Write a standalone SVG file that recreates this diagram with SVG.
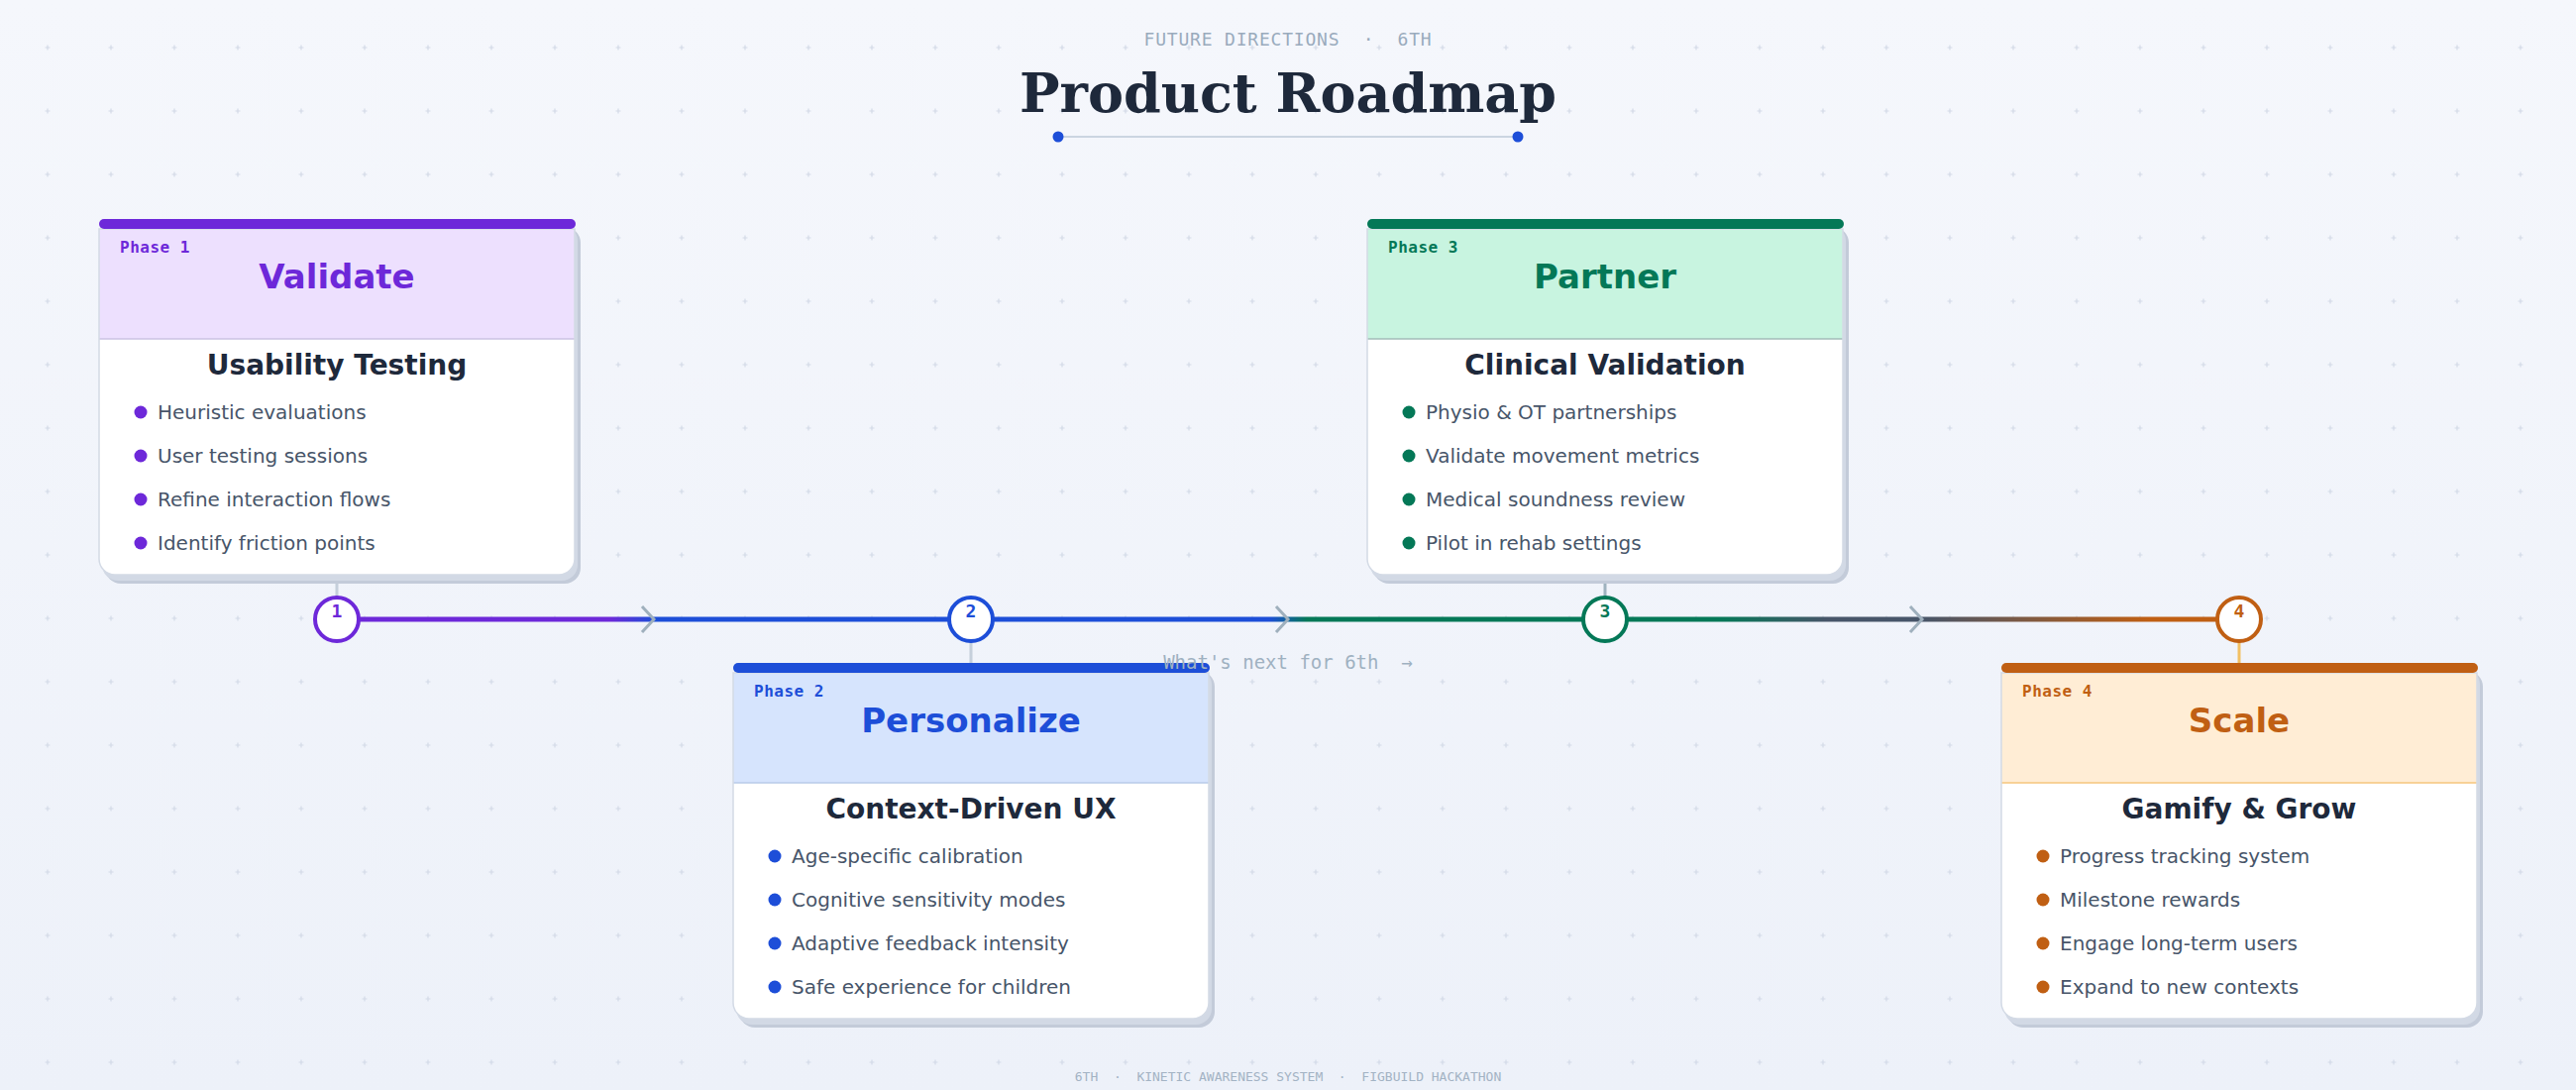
<svg xmlns="http://www.w3.org/2000/svg" width="2600" height="1100" viewBox="0 0 2600 1100">
<defs>
<linearGradient id="bg" x1="0" y1="0" x2="0" y2="1">
<stop offset="0" stop-color="#f5f7fc"/>
<stop offset="1" stop-color="#edf1f9"/>
</linearGradient>
<pattern id="grid" width="64" height="64" patternUnits="userSpaceOnUse">
<path d="M45.5 48H50.5M48 45.5V50.5" stroke="#d3dae7" stroke-width="1.2" fill="none"/>
</pattern>
<linearGradient id="seg1" gradientUnits="userSpaceOnUse" x1="340" y1="0" x2="980" y2="0">
<stop offset="0" stop-color="#6d28d9"/>
<stop offset="0.43" stop-color="#6d28d9"/>
<stop offset="0.5" stop-color="#1d4ed8"/>
<stop offset="1" stop-color="#1d4ed8"/>
</linearGradient>
<linearGradient id="seg2" gradientUnits="userSpaceOnUse" x1="980" y1="0" x2="1620" y2="0">
<stop offset="0" stop-color="#1d4ed8"/>
<stop offset="0.47" stop-color="#1d4ed8"/>
<stop offset="0.53" stop-color="#047857"/>
<stop offset="1" stop-color="#047857"/>
</linearGradient>
<linearGradient id="seg3" gradientUnits="userSpaceOnUse" x1="1620" y1="0" x2="2260" y2="0">
<stop offset="0" stop-color="#047857"/>
<stop offset="0.18" stop-color="#047857"/>
<stop offset="0.35" stop-color="#475569"/>
<stop offset="0.5" stop-color="#475569"/>
<stop offset="0.86" stop-color="#c05f13"/>
<stop offset="1" stop-color="#c05f13"/>
</linearGradient>
<g id="cardBase">
<rect x="6" y="8" width="480" height="360" rx="16" fill="#c3cbd9"/>
<rect x="3" y="6" width="480" height="359" rx="16" fill="#d2d9e5"/>
<path d="M0 10H480V343A16 16 0 0 1 464 359H16A16 16 0 0 1 0 343Z" fill="#ffffff"/>
</g>
</defs>
<style>
.mono{font-family:"DejaVu Sans Mono","Liberation Mono",monospace}
.sans{font-family:"DejaVu Sans","Liberation Sans",sans-serif}
.pre{white-space:pre}
.kicker{font-size:18px;letter-spacing:0.8px;fill:#9aabbd}
.title{font-family:"DejaVu Serif","Liberation Serif",serif;font-weight:700;font-size:54px;fill:#1e293b}
.footer{font-size:13px;fill:#a3b3c4}
.outline{fill:none;stroke:#d3dae5;stroke-width:1.5}
.phase{font-size:16px;font-weight:700;letter-spacing:0.5px}
.ptitle{font-size:34px;font-weight:700}
.sub{font-size:28px;font-weight:700;fill:#1e293b}
.item{font-size:20px;fill:#475569}
.seg{stroke-width:5;fill:none}
.chev{fill:none;stroke:#9fb0bd;stroke-width:3}
.stem{stroke-width:3}
.ms{fill:#ffffff;stroke-width:4}
.msn{font-size:18px;font-weight:700}
.note{font-size:19px;fill:#9fb1c1}
</style>
<rect width="2600" height="1100" fill="url(#bg)"/>
<rect width="2600" height="1100" fill="url(#grid)"/>

<g id="header">
<text class="mono kicker pre" x="1300" y="46" text-anchor="middle" xml:space="preserve">FUTURE DIRECTIONS  ·  6TH</text>
<text class="title" x="1300" y="113" text-anchor="middle">Product Roadmap</text>
<line x1="1068" y1="138" x2="1532" y2="138" stroke="#cbd5e1" stroke-width="2"/>
<circle cx="1068" cy="138" r="5.5" fill="#1d4ed8"/>
<circle cx="1532" cy="138" r="5.5" fill="#1d4ed8"/>
</g>

<g id="connectors">
<line class="seg" x1="340" y1="625" x2="980" y2="625" stroke="url(#seg1)"/>
<line class="seg" x1="980" y1="625" x2="1620" y2="625" stroke="url(#seg2)"/>
<line class="seg" x1="1620" y1="625" x2="2260" y2="625" stroke="url(#seg3)"/>
<polyline class="chev" points="648,612 660,625 648,638"/>
<polyline class="chev" points="1288,612 1300,625 1288,638"/>
<polyline class="chev" points="1928,612 1940,625 1928,638"/>
<line class="stem" x1="340" y1="580" x2="340" y2="602" stroke="#c5cfdb"/>
<line class="stem" x1="980" y1="648" x2="980" y2="669" stroke="#c5cfdb"/>
<line class="stem" x1="1620" y1="580" x2="1620" y2="602" stroke="#9fb3bf"/>
<line class="stem" x1="2260" y1="648" x2="2260" y2="669" stroke="#f2c064"/>
</g>

<g id="milestone-1">
<circle class="ms" cx="340" cy="625" r="22" stroke="#6d28d9"/>
<text class="mono msn" x="340" y="623" text-anchor="middle" fill="#6d28d9">1</text>
</g>
<g id="milestone-2">
<circle class="ms" cx="980" cy="625" r="22" stroke="#1d4ed8"/>
<text class="mono msn" x="980" y="623" text-anchor="middle" fill="#1d4ed8">2</text>
</g>
<g id="milestone-3">
<circle class="ms" cx="1620" cy="625" r="22" stroke="#047857"/>
<text class="mono msn" x="1620" y="623" text-anchor="middle" fill="#047857">3</text>
</g>
<g id="milestone-4">
<circle class="ms" cx="2260" cy="625" r="22" stroke="#c05f13"/>
<text class="mono msn" x="2260" y="623" text-anchor="middle" fill="#c05f13">4</text>
</g>

<g id="phase-1" transform="translate(100,221)">
<use href="#cardBase"/>
<path d="M0 10H480V121H0Z" fill="#ede0fe"/>
<line x1="0" y1="121" x2="480" y2="121" stroke="#cbc3e3" stroke-width="1.5"/>
<path class="outline" d="M0 10H480V343A16 16 0 0 1 464 359H16A16 16 0 0 1 0 343Z"/>
<rect x="0" y="0" width="481" height="10" rx="5" fill="#6d28d9"/>
<text class="mono phase" x="21" y="34" fill="#6d28d9">Phase 1</text>
<text class="sans ptitle" x="240" y="70" text-anchor="middle" fill="#6d28d9">Validate</text>
<text class="sans sub" x="240" y="157" text-anchor="middle">Usability Testing</text>
<g fill="#6d28d9"><circle cx="42" cy="195" r="6.5"/><circle cx="42" cy="239" r="6.5"/><circle cx="42" cy="283" r="6.5"/><circle cx="42" cy="327" r="6.5"/></g>
<text class="sans item" x="59" y="202">Heuristic evaluations</text>
<text class="sans item" x="59" y="246">User testing sessions</text>
<text class="sans item" x="59" y="290">Refine interaction flows</text>
<text class="sans item" x="59" y="334">Identify friction points</text>
</g>

<g id="phase-2" transform="translate(740,669)">
<use href="#cardBase"/>
<path d="M0 10H480V121H0Z" fill="#d6e4fd"/>
<line x1="0" y1="121" x2="480" y2="121" stroke="#b9cbe9" stroke-width="1.5"/>
<path class="outline" d="M0 10H480V343A16 16 0 0 1 464 359H16A16 16 0 0 1 0 343Z"/>
<rect x="0" y="0" width="481" height="10" rx="5" fill="#1d4ed8"/>
<text class="mono phase" x="21" y="34" fill="#1d4ed8">Phase 2</text>
<text class="sans ptitle" x="240" y="70" text-anchor="middle" fill="#1d4ed8">Personalize</text>
<text class="sans sub" x="240" y="157" text-anchor="middle">Context-Driven UX</text>
<g fill="#1d4ed8"><circle cx="42" cy="195" r="6.5"/><circle cx="42" cy="239" r="6.5"/><circle cx="42" cy="283" r="6.5"/><circle cx="42" cy="327" r="6.5"/></g>
<text class="sans item" x="59" y="202">Age-specific calibration</text>
<text class="sans item" x="59" y="246">Cognitive sensitivity modes</text>
<text class="sans item" x="59" y="290">Adaptive feedback intensity</text>
<text class="sans item" x="59" y="334">Safe experience for children</text>
</g>

<g id="phase-3" transform="translate(1380,221)">
<use href="#cardBase"/>
<path d="M0 10H480V121H0Z" fill="#c8f4e0"/>
<line x1="0" y1="121" x2="480" y2="121" stroke="#a3bcb8" stroke-width="1.5"/>
<path class="outline" d="M0 10H480V343A16 16 0 0 1 464 359H16A16 16 0 0 1 0 343Z"/>
<rect x="0" y="0" width="481" height="10" rx="5" fill="#047857"/>
<text class="mono phase" x="21" y="34" fill="#047857">Phase 3</text>
<text class="sans ptitle" x="240" y="70" text-anchor="middle" fill="#047857">Partner</text>
<text class="sans sub" x="240" y="157" text-anchor="middle">Clinical Validation</text>
<g fill="#047857"><circle cx="42" cy="195" r="6.5"/><circle cx="42" cy="239" r="6.5"/><circle cx="42" cy="283" r="6.5"/><circle cx="42" cy="327" r="6.5"/></g>
<text class="sans item" x="59" y="202">Physio &amp; OT partnerships</text>
<text class="sans item" x="59" y="246">Validate movement metrics</text>
<text class="sans item" x="59" y="290">Medical soundness review</text>
<text class="sans item" x="59" y="334">Pilot in rehab settings</text>
</g>

<g id="phase-4" transform="translate(2020,669)">
<use href="#cardBase"/>
<path d="M0 10H480V121H0Z" fill="#ffedd5"/>
<line x1="0" y1="121" x2="480" y2="121" stroke="#f6c67c" stroke-width="1.5"/>
<path class="outline" d="M0 10H480V343A16 16 0 0 1 464 359H16A16 16 0 0 1 0 343Z"/>
<rect x="0" y="0" width="481" height="10" rx="5" fill="#c05f13"/>
<text class="mono phase" x="21" y="34" fill="#c05f13">Phase 4</text>
<text class="sans ptitle" x="240" y="70" text-anchor="middle" fill="#c05f13">Scale</text>
<text class="sans sub" x="240" y="157" text-anchor="middle">Gamify &amp; Grow</text>
<g fill="#c05f13"><circle cx="42" cy="195" r="6.5"/><circle cx="42" cy="239" r="6.5"/><circle cx="42" cy="283" r="6.5"/><circle cx="42" cy="327" r="6.5"/></g>
<text class="sans item" x="59" y="202">Progress tracking system</text>
<text class="sans item" x="59" y="246">Milestone rewards</text>
<text class="sans item" x="59" y="290">Engage long-term users</text>
<text class="sans item" x="59" y="334">Expand to new contexts</text>
</g>

<text class="mono note pre" x="1300" y="675" text-anchor="middle" xml:space="preserve">What's next for 6th  →</text>
<text class="mono footer pre" x="1300" y="1091" text-anchor="middle" xml:space="preserve">6TH  ·  KINETIC AWARENESS SYSTEM  ·  FIGBUILD HACKATHON</text>
</svg>
